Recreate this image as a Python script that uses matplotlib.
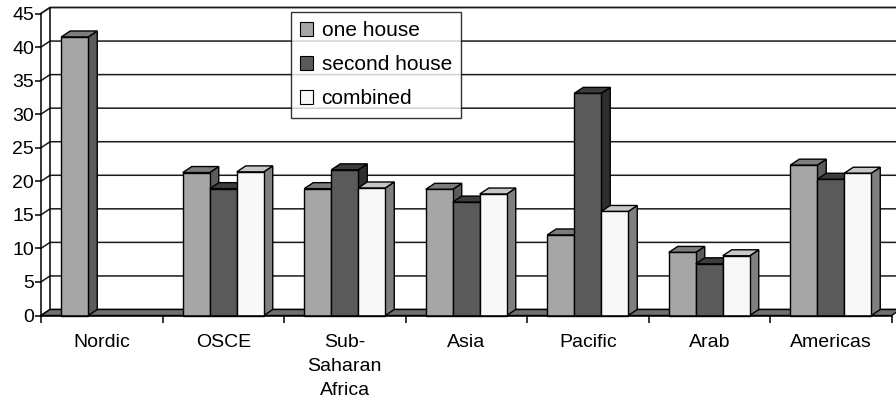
import matplotlib.pyplot as plt
from matplotlib.patches import Polygon, Rectangle, Patch

plt.rcParams['font.family'] = ['Liberation Sans', 'DejaVu Sans']

regions = ["Nordic", "OSCE", "Sub-\nSaharan\nAfrica", "Asia", "Pacific", "Arab", "Americas"]
one_house = [41.5, 21.3, 18.9, 18.8, 12.0, 9.4, 22.4]
second_house = [0, 18.9, 21.7, 16.9, 33.1, 7.7, 20.3]
combined = [0, 21.4, 19.0, 18.1, 15.5, 8.9, 21.2]
series_names = ["one house", "second house", "combined"]
y_ticks = list(range(0, 50, 5))

# front, top, side shades for each series
shades = [("#A6A6A6", "#7C7C7C", "#5C5C5C"),
          ("#5A5A5A", "#3C3C3C", "#2E2E2E"),
          ("#F8F8F8", "#C6C6C6", "#808080")]
floor_color = "#707070"

W, H = 896, 403
fig = plt.figure(figsize=(W / 100, H / 100), dpi=100)
ax = fig.add_axes([41 / W, 87.5 / H, 850.5 / W, 302 / H])
n = len(regions)
ymax = 45
ax.set_xlim(0, n)
ax.set_ylim(0, ymax)

# oblique depth offset in data units (about 9 px right, 6 px up)
dx = 9 / 121.5
dy = 6 / (302 / ymax)
bar_w = 1 / 4.5

# side-wall / back-wall gridlines
for v in y_ticks:
    lw = 1.3 if v == ymax else 1.1
    ax.plot([0, dx, n + dx], [v, v + dy, v + dy], color="#1a1a1a",
            lw=lw, clip_on=False, zorder=1)
ax.plot([dx, dx], [dy, ymax + dy], color="black", lw=1.1, clip_on=False, zorder=1)

# floor
ax.add_patch(Polygon([(0, 0), (n, 0), (n + dx, dy), (dx, dy)], closed=True,
                     facecolor=floor_color, edgecolor="black", lw=1,
                     clip_on=False, zorder=2))

# 3-D style columns, drawn left to right so later bars hide earlier side faces
all_series = [one_house, second_house, combined]
z = 3
for i in range(n):
    for j, vals in enumerate(all_series):
        v = vals[i]
        if v <= 0:
            continue
        x0 = i + 0.5 - 1.5 * bar_w + j * bar_w
        x1 = x0 + bar_w
        front, top, side = shades[j]
        ax.add_patch(Polygon([(x1, 0), (x1 + dx, dy), (x1 + dx, v + dy), (x1, v)],
                             closed=True, facecolor=side, edgecolor="black",
                             lw=1, clip_on=False, zorder=z))
        ax.add_patch(Polygon([(x0, v), (x1, v), (x1 + dx, v + dy), (x0 + dx, v + dy)],
                             closed=True, facecolor=top, edgecolor="black",
                             lw=1, clip_on=False, zorder=z))
        ax.add_patch(Rectangle((x0, 0), bar_w, v, facecolor=front,
                               edgecolor="black", lw=1, clip_on=False, zorder=z))
        z += 1

# axes
for s in ["top", "right"]:
    ax.spines[s].set_visible(False)
for s in ["left", "bottom"]:
    ax.spines[s].set_linewidth(1.1)
    ax.spines[s].set_zorder(50)
ax.set_yticks(y_ticks)
ax.tick_params(axis="y", direction="out", length=4, width=1.1, pad=1, labelsize=14)
ax.set_xticks(range(n + 1))
ax.set_xticklabels([])
ax.tick_params(axis="x", which="major", direction="out", length=5, width=1.1)
ax.set_xticks([i + 0.5 for i in range(n)], minor=True)
ax.set_xticklabels(regions, minor=True, fontsize=14, linespacing=1.55)
ax.tick_params(axis="x", which="minor", length=0, pad=13)
ax.patch.set_visible(False)

handles = [Patch(facecolor=shades[j][0], edgecolor="black", lw=0.8)
           for j in range(3)]
leg = fig.legend(handles, series_names, loc="upper left",
                 bbox_to_anchor=(291 / W, 1 - 12 / H), fontsize=15,
                 frameon=True, fancybox=False, edgecolor="black",
                 handlelength=0.62, handleheight=0.62, handletextpad=0.4,
                 labelspacing=0.72, borderpad=0.45, borderaxespad=0)
leg.get_frame().set_linewidth(1.0)
leg.set_zorder(100)

fig.savefig("out.png", dpi=100)
